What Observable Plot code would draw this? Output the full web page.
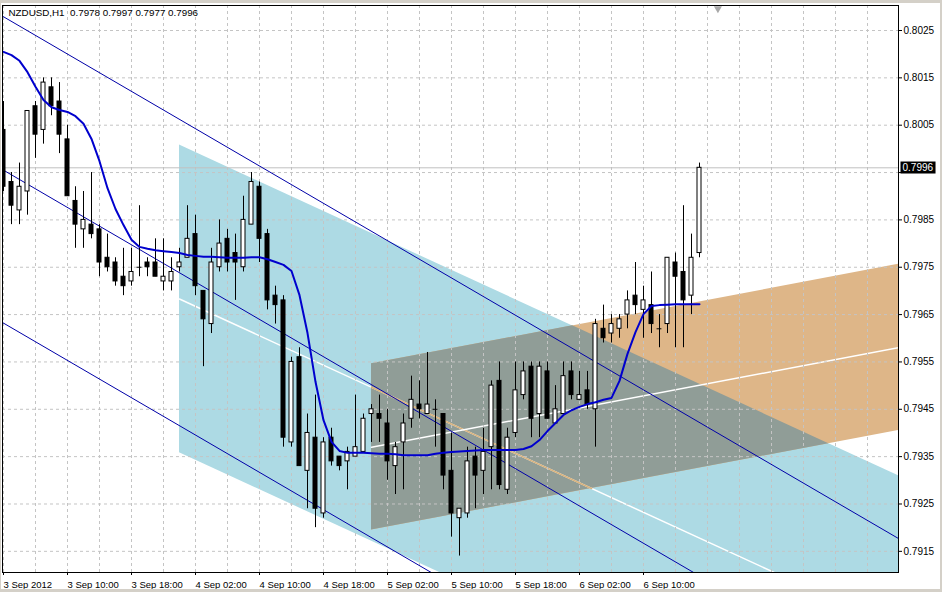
<!DOCTYPE html>
<html>
<head>
<meta charset="utf-8">
<script src="https://cdn.jsdelivr.net/npm/d3@7"></script>
<script src="https://cdn.jsdelivr.net/npm/@observablehq/plot@0.6"></script>
<style>
  html, body { margin: 0; padding: 0; background: #d4d0c8; }
  body { width: 942px; height: 592px; overflow: hidden; position: relative; }
  #chart { position: absolute; left: 1px; top: 3px; }
  #chart svg { display: block; background: #fff; }
</style>
</head>
<body>
<div id="chart"></div>
<script>
// NZDUSD hourly candles, 3 Sep 2012 02:00 onwards
const symbol = "NZDUSD";
const period = "H1";
const firstBar = Date.UTC(2012, 8, 3, 2);

const opens = [
  0.8004, 0.7993, 0.7987, 0.7991, 0.8009, 0.8004, 0.8013, 0.8010, 0.8002, 0.7989,
  0.7983, 0.7984, 0.7983, 0.7977, 0.7976, 0.7973, 0.7972, 0.7975, 0.7976, 0.7976,
  0.7972, 0.7972, 0.7975, 0.7977, 0.7982, 0.7970, 0.7963, 0.7975, 0.7981, 0.7978,
  0.7975, 0.7984, 0.7992, 0.7982, 0.7969, 0.7968, 0.7938, 0.7956, 0.7932, 0.7939,
  0.7923, 0.7939, 0.7935, 0.7934, 0.7935, 0.7936, 0.7944, 0.7944, 0.7942, 0.7933,
  0.7938, 0.7943, 0.7946, 0.7944, 0.7945, 0.7944, 0.7932, 0.7922, 0.7923, 0.7935,
  0.7932, 0.7937, 0.7951, 0.7928, 0.7940, 0.7948, 0.7954, 0.7944, 0.7953, 0.7942,
  0.7944, 0.7953, 0.7947, 0.7949, 0.7945, 0.7962, 0.7961, 0.7962, 0.7965, 0.7969,
  0.7966, 0.7967, 0.7962, 0.7963, 0.7976, 0.7974, 0.7969, 0.7978
];
const highs = [
  0.8010, 0.7995, 0.7997, 0.8008, 0.8010, 0.8015, 0.8015, 0.8014, 0.8005, 0.7992,
  0.7991, 0.7995, 0.7984, 0.7982, 0.7977, 0.7979, 0.7979, 0.7988, 0.7977, 0.7981,
  0.7981, 0.7977, 0.7979, 0.7988, 0.7986, 0.7970, 0.7979, 0.7985, 0.7983, 0.7982,
  0.7990, 0.7995, 0.7993, 0.7983, 0.7971, 0.7969, 0.7956, 0.7958, 0.7944, 0.7948,
  0.7939, 0.7941, 0.7935, 0.7937, 0.7948, 0.7944, 0.7946, 0.7948, 0.7945, 0.7938,
  0.7944, 0.7952, 0.7951, 0.7957, 0.7947, 0.7944, 0.7940, 0.7924, 0.7937, 0.7937,
  0.7941, 0.7951, 0.7955, 0.7941, 0.7955, 0.7955, 0.7955, 0.7955, 0.7955, 0.7950,
  0.7955, 0.7955, 0.7953, 0.7953, 0.7964, 0.7967, 0.7965, 0.7965, 0.7970, 0.7976,
  0.7971, 0.7974, 0.7965, 0.7977, 0.7978, 0.7988, 0.7982, 0.7997
];
const lows = [
  0.7991, 0.7984, 0.7984, 0.7986, 0.7998, 0.8001, 0.8007, 0.7999, 0.7990, 0.7979,
  0.7979, 0.7981, 0.7973, 0.7974, 0.7971, 0.7969, 0.7971, 0.7973, 0.7973, 0.7973,
  0.7970, 0.7970, 0.7974, 0.7977, 0.7969, 0.7954, 0.7961, 0.7974, 0.7974, 0.7968,
  0.7974, 0.7984, 0.7976, 0.7966, 0.7963, 0.7937, 0.7937, 0.7933, 0.7924, 0.7920,
  0.7922, 0.7933, 0.7932, 0.7928, 0.7935, 0.7936, 0.7938, 0.7938, 0.7930, 0.7927,
  0.7928, 0.7941, 0.7943, 0.7944, 0.7937, 0.7928, 0.7918, 0.7914, 0.7922, 0.7924,
  0.7927, 0.7928, 0.7928, 0.7927, 0.7939, 0.7947, 0.7939, 0.7939, 0.7943, 0.7942,
  0.7944, 0.7947, 0.7947, 0.7945, 0.7937, 0.7959, 0.7959, 0.7960, 0.7962, 0.7965,
  0.7960, 0.7961, 0.7958, 0.7961, 0.7958, 0.7958, 0.7965, 0.7977
];
const closes = [
  0.7992, 0.7988, 0.7992, 0.8008, 0.8003, 0.8014, 0.8009, 0.8003, 0.7990, 0.7984,
  0.7985, 0.7982, 0.7976, 0.7975, 0.7972, 0.7971, 0.7974, 0.7975, 0.7975, 0.7973,
  0.7973, 0.7974, 0.7976, 0.7981, 0.7971, 0.7964, 0.7976, 0.7980, 0.7976, 0.7976,
  0.7985, 0.7993, 0.7981, 0.7968, 0.7967, 0.7939, 0.7955, 0.7933, 0.7940, 0.7924,
  0.7938, 0.7934, 0.7933, 0.7936, 0.7937, 0.7943, 0.7945, 0.7943, 0.7934, 0.7937,
  0.7942, 0.7947, 0.7945, 0.7946, 0.7945, 0.7931, 0.7923, 0.7924, 0.7934, 0.7931,
  0.7936, 0.7950, 0.7929, 0.7939, 0.7949, 0.7953, 0.7943, 0.7954, 0.7943, 0.7945,
  0.7952, 0.7948, 0.7948, 0.7946, 0.7963, 0.7960, 0.7963, 0.7964, 0.7968, 0.7967,
  0.7968, 0.7963, 0.7962, 0.7977, 0.7973, 0.7968, 0.7977, 0.7996
];

// smoothed moving average, one value per bar
const maValues = [
  0.80205, 0.80198, 0.80186, 0.80162, 0.80131, 0.80103, 0.80088, 0.80082, 0.80078, 0.80069, 0.80053, 0.80021,
  0.79974, 0.79917, 0.79873, 0.79839, 0.79808, 0.79793, 0.79789, 0.79786, 0.79784, 0.79782, 0.79780, 0.79776,
  0.79774, 0.79772, 0.79772, 0.79771, 0.79770, 0.79770, 0.79770, 0.79771, 0.79771, 0.79767, 0.79761, 0.79755,
  0.79742, 0.79691, 0.79611, 0.79508, 0.79427, 0.79381, 0.79362, 0.79358, 0.79358, 0.79358, 0.79357, 0.79356,
  0.79356, 0.79355, 0.79353, 0.79353, 0.79353, 0.79353, 0.79356, 0.79358, 0.79360, 0.79361, 0.79362, 0.79363,
  0.79364, 0.79364, 0.79364, 0.79364, 0.79364, 0.79366, 0.79372, 0.79385, 0.79404, 0.79421, 0.79438, 0.79448,
  0.79455, 0.79461, 0.79465, 0.79470, 0.79474, 0.79510, 0.79567, 0.79613, 0.79651, 0.79668, 0.79670, 0.79671,
  0.79672, 0.79672, 0.79672, 0.79672
];

// equidistant channel: prices of the three lines at its anchor bar, drift per bar
const eqAnchorBar = 0;
const eqLinePrices = [0.80279, 0.79955, 0.79632];
const eqSlope = -0.0000985;

// falling filled channel: anchor bar, top / middle / bottom prices, drift per bar
const fallAnchorBar = 22;
const fallPrices = [0.80008, 0.79683, 0.79358];
const fallSlope = -0.0000777;

// rising filled channel
const riseAnchorBar = 46;
const risePrices = [0.79546, 0.79370, 0.79195];
const riseSlope = 0.0000319;

// bar where the chart shift marker sits
const shiftBar = 89.3;

// axes
const priceTicks = [0.7915, 0.7925, 0.7935, 0.7945, 0.7955, 0.7965, 0.7975, 0.7985, 0.7995, 0.8005, 0.8015, 0.8025];
const timeTickBars = [0, 8, 16, 24, 32, 40, 48, 56, 64, 72, 80];
const timeTickLabels = ["3 Sep 2012", "3 Sep 10:00", "3 Sep 18:00", "4 Sep 02:00", "4 Sep 10:00", "4 Sep 18:00",
                        "5 Sep 02:00", "5 Sep 10:00", "5 Sep 18:00", "6 Sep 02:00", "6 Sep 10:00"];

const HOUR = 3600e3;
const barTime = b => new Date(firstBar + b * HOUR);
const last = closes.length - 1;
const endBar = 113;
const fmt4 = d3.format(".4f");

const candles = opens.map((o, i) => ({b: i, t: barTime(i), open: o, high: highs[i], low: lows[i], close: closes[i]}));
const bulls = candles.filter(d => d.close > d.open);
const bears = candles.filter(d => d.close < d.open);
const dojis = candles.filter(d => d.close === d.open);
const maPts = maValues.map((v, i) => ({t: barTime(i), v}));

// straight-line helpers in (bar, price) space
const mkLine = (b0, p0, s) => ({b0, p0, s});
const at = (l, b) => l.p0 + l.s * (b - l.b0);
const cross = (l1, l2) => {
  const ds = l1.s - l2.s;
  return ds === 0 ? null : l1.b0 + (at(l2, l1.b0) - l1.p0) / ds;
};
const mkBand = (b0, prices, s) => ({
  b0,
  hi: mkLine(b0, prices[0], s),
  mid: mkLine(b0, prices[1], s),
  lo: mkLine(b0, prices[2], s)
});
const bandPts = band => [band.b0, endBar].map(b => ({t: barTime(b), lo: at(band.lo, b), hi: at(band.hi, b)}));
const linePts = (l, b0, b1) => [b0, b1].map(b => ({t: barTime(b), p: at(l, b)}));

// region shared by two bands
function overlap(A, B) {
  const start = Math.max(A.b0, B.b0);
  const bs = [start, endBar];
  for (const la of [A.lo, A.hi]) for (const lb of [B.lo, B.hi]) {
    const c = cross(la, lb);
    if (c !== null && c > start && c < endBar) bs.push(c);
  }
  bs.sort((a, b) => a - b);
  return bs.map(b => {
    const lo = Math.max(at(A.lo, b), at(B.lo, b));
    const hi = Math.max(lo, Math.min(at(A.hi, b), at(B.hi, b)));
    return {t: barTime(b), lo, hi};
  });
}

// part of a line lying inside a band
function inside(l, band) {
  let b0 = Math.max(l.b0, band.b0), b1 = endBar;
  for (const [edge, above] of [[band.lo, true], [band.hi, false]]) {
    const c = cross(l, edge);
    const d = l.s - edge.s;
    if (c === null) {
      const diff = at(l, b0) - at(edge, b0);
      if (above ? diff < 0 : diff > 0) return [];
    } else if ((d > 0) === above) b0 = Math.max(b0, c);
    else b1 = Math.min(b1, c);
  }
  return b0 < b1 ? linePts(l, b0, b1) : [];
}

const fallBand = mkBand(fallAnchorBar, fallPrices, fallSlope);
const riseBand = mkBand(riseAnchorBar, risePrices, riseSlope);
const eqLines = eqLinePrices.flatMap((p, k) =>
  linePts(mkLine(eqAnchorBar, p, eqSlope), -2, endBar).map(d => ({...d, k})));

const gridTimes = d3.range(0, 112, 4).map(barTime);
const labelByTime = new Map(timeTickBars.map((b, i) => [+barTime(b), timeTickLabels[i]]));
const titleText = `${symbol},${period}\u00a0 ${[opens, highs, lows, closes].map(a => fmt4(a[last])).join(" ")}`;
const bidText = fmt4(closes[last]);

const gridColor = "#c4c4c4";
const halfBody = 0.25;

const chart = Plot.plot({
  width: 939,
  height: 586,
  marginLeft: 1,
  marginRight: 42,
  marginTop: 2,
  marginBottom: 17,
  style: {fontFamily: "'Liberation Sans', Arial, sans-serif", fontSize: "9.5px", color: "#000", background: "#fff"},
  x: {type: "utc", domain: [barTime(-0.125), barTime(111.875)]},
  y: {domain: [0.791053, 0.803028]},
  marks: [
    Plot.area(bandPts(fallBand), {x1: "t", y1: "lo", y2: "hi", fill: "#addae4", clip: true}),
    Plot.area(bandPts(riseBand), {x1: "t", y1: "lo", y2: "hi", fill: "#deb688", clip: true}),
    Plot.area(overlap(fallBand, riseBand), {x1: "t", y1: "lo", y2: "hi", fill: "#909d97", clip: true}),
    Plot.line(linePts(fallBand.mid, fallBand.b0, endBar), {x: "t", y: "p", stroke: "white", clip: true}),
    Plot.line(inside(fallBand.mid, riseBand), {x: "t", y: "p", stroke: "#d9b27c", clip: true}),
    Plot.line(linePts(riseBand.mid, riseBand.b0, endBar), {x: "t", y: "p", stroke: "white", clip: true}),
    Plot.ruleY(priceTicks, {stroke: gridColor, strokeDasharray: "3,3"}),
    Plot.ruleX(gridTimes, {stroke: gridColor, strokeDasharray: "3,3"}),
    Plot.ruleY([closes[last]], {stroke: "#c0c0c0"}),
    Plot.line(eqLines, {x: "t", y: "p", z: "k", stroke: "#0000a8", strokeWidth: 1, clip: true}),
    Plot.ruleX(candles, {x: "t", y1: "low", y2: "high", stroke: "black", clip: true}),
    Plot.rect(bears, {x1: d => barTime(d.b - halfBody), x2: d => barTime(d.b + halfBody), y1: "open", y2: "close", fill: "black", stroke: "black", clip: true}),
    Plot.rect(bulls, {x1: d => barTime(d.b - halfBody), x2: d => barTime(d.b + halfBody), y1: "open", y2: "close", fill: "white", stroke: "black", clip: true}),
    Plot.ruleY(dojis, {y: "open", x1: d => barTime(d.b - 0.3), x2: d => barTime(d.b + 0.3), stroke: "black"}),
    Plot.line(maPts, {x: "t", y: "v", stroke: "#0000cd", strokeWidth: 2, clip: true}),
    Plot.frame({stroke: "black"}),
    Plot.dot([shiftBar], {x: barTime, frameAnchor: "top", dy: 3, symbol: "triangle", rotate: 180, r: 3, fill: "#a8a8a8", stroke: "none"}),
    Plot.axisY(priceTicks, {
      anchor: "right", tickSize: 3, tickPadding: 2, label: null, fontSize: 10,
      tickFormat: d => Math.abs(d - closes[last]) < 0.0002 ? "" : fmt4(d)
    }),
    Plot.axisX(timeTickBars.map(barTime), {
      anchor: "bottom", tickSize: 3, tickPadding: 6, label: null, textAnchor: "start",
      tickFormat: d => labelByTime.get(+d)
    }),
    Plot.text([titleText], {frameAnchor: "top-left", dx: 6, dy: 4, lineAnchor: "top", textAnchor: "start", fill: "black", fontSize: 9.8}),
    Plot.text([closes[last]], {y: d => d, frameAnchor: "right", dx: 4, textAnchor: "start", fill: "white", fontSize: 10, text: () => bidText})
  ]
});

document.getElementById("chart").append(chart);

// black box behind the current price label
const bidLabel = Array.from(chart.querySelectorAll("text")).find(t => t.textContent === bidText);
if (bidLabel) {
  let bb = bidLabel.getBBox();
  if (!bb.width) bb = {x: 0, y: -6, width: 31, height: 12};
  const rect = document.createElementNS("http://www.w3.org/2000/svg", "rect");
  rect.setAttribute("x", bb.x - 2);
  rect.setAttribute("y", bb.y - 0.5);
  rect.setAttribute("width", bb.width + 4);
  rect.setAttribute("height", bb.height + 1);
  rect.setAttribute("fill", "black");
  const tf = bidLabel.getAttribute("transform");
  if (tf) rect.setAttribute("transform", tf);
  bidLabel.parentNode.insertBefore(rect, bidLabel);
}
</script>
</body>
</html>
